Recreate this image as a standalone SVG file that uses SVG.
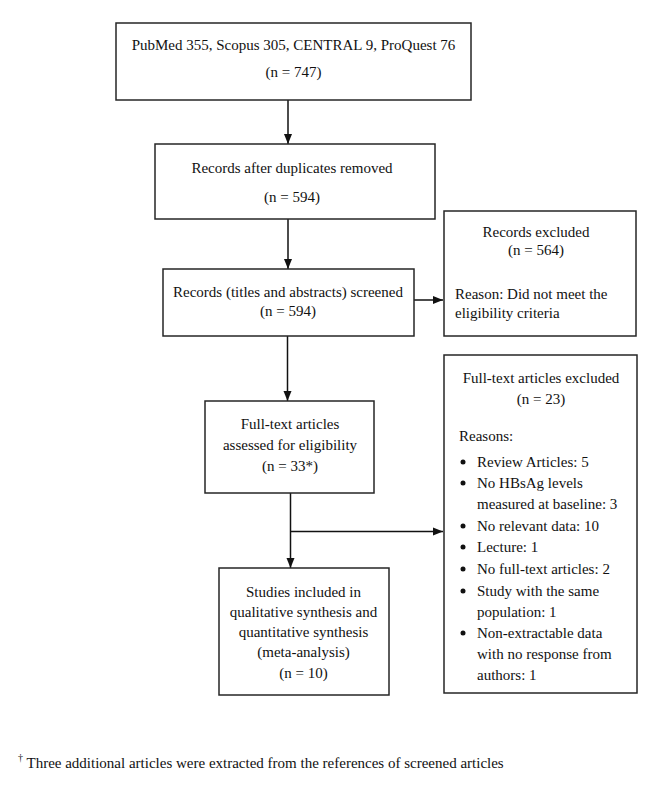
<svg xmlns="http://www.w3.org/2000/svg" width="662" height="807" viewBox="0 0 662 807">
<style>
  .box { fill: #fff; stroke: #262626; stroke-width: 1.5; }
  .t { font-family: "Liberation Serif", "Times New Roman", serif; font-size: 15px; fill: #111; }
  .c { text-anchor: middle; }
  .line { fill: none; stroke: #111; stroke-width: 1.5; }
  .dot { fill: #111; }
</style>
<defs>
  <marker id="arr" markerUnits="userSpaceOnUse" markerWidth="10" markerHeight="10" viewBox="0 0 10 10" refX="10" refY="5" orient="auto">
    <path d="M0,1 L10,5 L0,9 Z" fill="#111"/>
  </marker>
</defs>
<rect width="662" height="807" fill="#fff"/>

<g id="connectors">
  <line class="line" x1="288" y1="100" x2="288" y2="144" marker-end="url(#arr)"/>
  <line class="line" x1="288" y1="219" x2="288" y2="269" marker-end="url(#arr)"/>
  <line class="line" x1="414" y1="300" x2="443" y2="300" marker-end="url(#arr)"/>
  <line class="line" x1="287.5" y1="336" x2="287.5" y2="401" marker-end="url(#arr)"/>
  <line class="line" x1="290.5" y1="493" x2="290.5" y2="568" marker-end="url(#arr)"/>
  <line class="line" x1="290.5" y1="531.5" x2="443" y2="531.5" marker-end="url(#arr)"/>
</g>

<g id="identified">
  <rect class="box" x="116" y="23" width="355" height="77"/>
  <text class="t c" x="293.5" y="50">PubMed 355, Scopus 305, CENTRAL 9, ProQuest 76</text>
  <text class="t c" x="293.5" y="77">(n = 747)</text>
</g>

<g id="deduplicated">
  <rect class="box" x="155" y="144" width="280" height="75"/>
  <text class="t c" x="292" y="173">Records after duplicates removed</text>
  <text class="t c" x="292" y="202">(n = 594)</text>
</g>

<g id="screened">
  <rect class="box" x="163" y="269" width="251" height="67"/>
  <text class="t c" x="288" y="297">Records (titles and abstracts) screened</text>
  <text class="t c" x="288" y="316">(n = 594)</text>
</g>

<g id="records-excluded">
  <rect class="box" x="444" y="211" width="192" height="125"/>
  <text class="t c" x="536" y="237">Records excluded</text>
  <text class="t c" x="536" y="255">(n = 564)</text>
  <text class="t" x="455" y="299">Reason: Did not meet the</text>
  <text class="t" x="455" y="318">eligibility criteria</text>
</g>

<g id="assessed">
  <rect class="box" x="205" y="401" width="169" height="92"/>
  <text class="t c" x="290" y="429">Full-text articles</text>
  <text class="t c" x="290" y="450">assessed for eligibility</text>
  <text class="t c" x="290" y="470.5">(n = 33*)</text>
</g>

<g id="included">
  <rect class="box" x="219" y="568" width="170" height="127"/>
  <text class="t c" x="303.5" y="597">Studies included in</text>
  <text class="t c" x="303.5" y="617">qualitative synthesis and</text>
  <text class="t c" x="303.5" y="636.5">quantitative synthesis</text>
  <text class="t c" x="303.5" y="657">(meta-analysis)</text>
  <text class="t c" x="303.5" y="678">(n = 10)</text>
</g>

<g id="fulltext-excluded">
  <rect class="box" x="444" y="355" width="193" height="338"/>
  <text class="t c" x="541" y="383">Full-text articles excluded</text>
  <text class="t c" x="541" y="404">(n = 23)</text>
  <text class="t" x="459" y="441">Reasons:</text>
  <circle class="dot" cx="463" cy="462" r="2.5"/>
  <text class="t" x="477" y="467">Review Articles: 5</text>
  <circle class="dot" cx="463" cy="483" r="2.5"/>
  <text class="t" x="477" y="488">No HBsAg levels</text>
  <text class="t" x="477" y="509">measured at baseline: 3</text>
  <circle class="dot" cx="463" cy="526" r="2.5"/>
  <text class="t" x="477" y="531">No relevant data: 10</text>
  <circle class="dot" cx="463" cy="547" r="2.5"/>
  <text class="t" x="477" y="552">Lecture: 1</text>
  <circle class="dot" cx="463" cy="569" r="2.5"/>
  <text class="t" x="477" y="574">No full-text articles: 2</text>
  <circle class="dot" cx="463" cy="591" r="2.5"/>
  <text class="t" x="477" y="596">Study with the same</text>
  <text class="t" x="477" y="617">population: 1</text>
  <circle class="dot" cx="463" cy="633" r="2.5"/>
  <text class="t" x="477" y="638">Non-extractable data</text>
  <text class="t" x="477" y="659">with no response from</text>
  <text class="t" x="477" y="680">authors: 1</text>
</g>

<g id="footnote">
  <text class="t" x="18" y="768"><tspan font-size="10" dy="-7">†</tspan><tspan dy="7"> Three additional articles were extracted from the references of screened articles</tspan></text>
</g>
</svg>
